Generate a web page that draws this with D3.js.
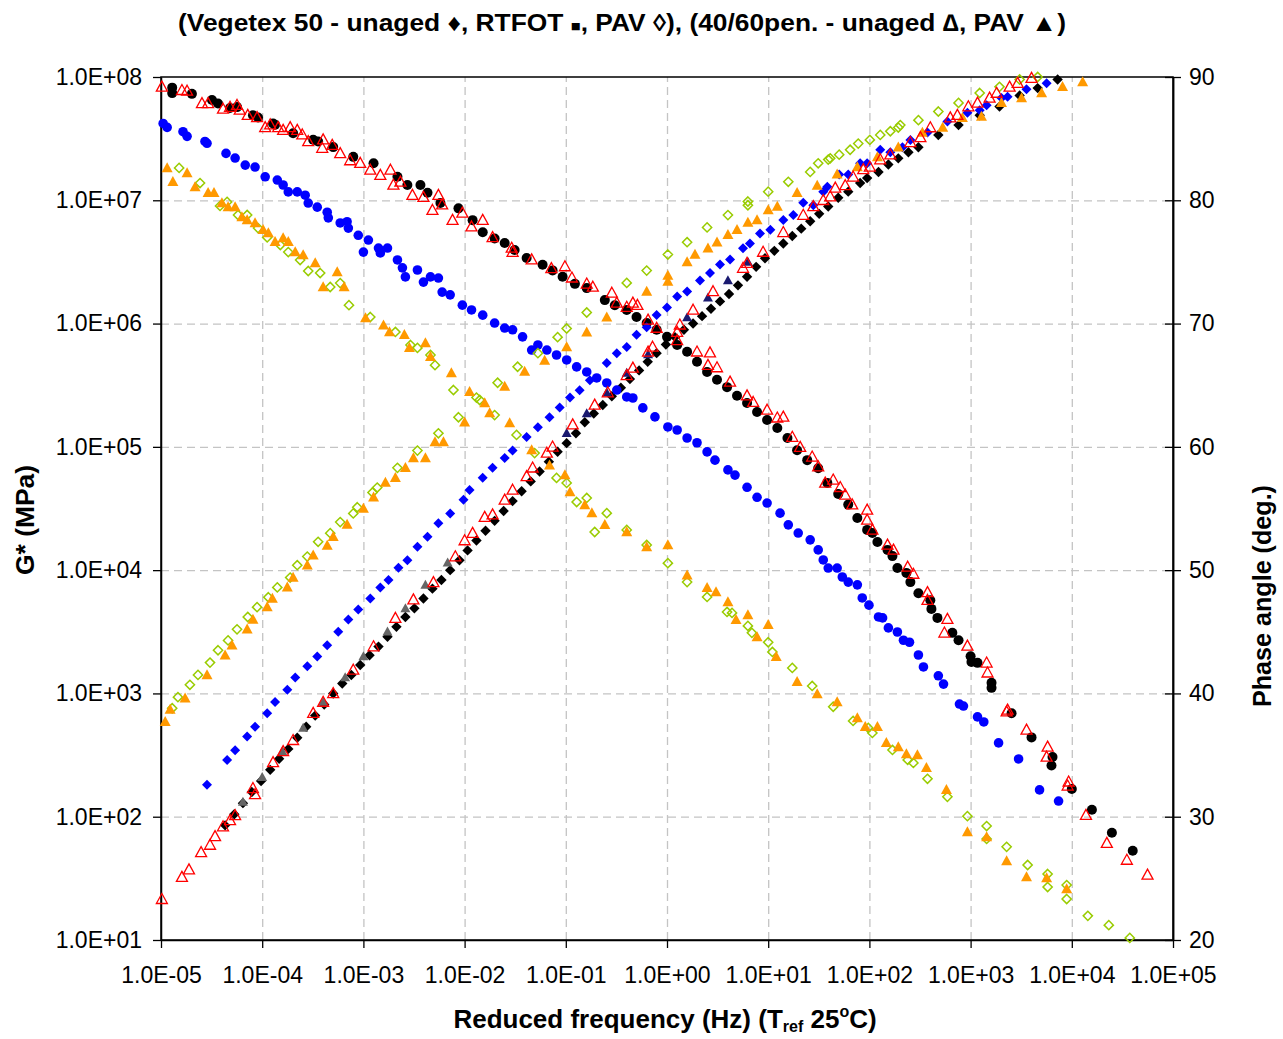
<!DOCTYPE html>
<html><head><meta charset="utf-8">
<script src="https://cdn.jsdelivr.net/npm/d3@7"></script>
<style>
body{margin:0;background:#fff}
svg{display:block}
text{font-family:"Liberation Sans",Arial,"DejaVu Sans",sans-serif;fill:#000}
</style>
</head><body>
<svg id="c" width="1283" height="1039"></svg>
<script>
// ---------------- DATA ----------------
const xTicks = [1e-5,1e-4,1e-3,1e-2,1e-1,1e0,1e1,1e2,1e3,1e4,1e5];
const xTickLabels = ["1.0E-05","1.0E-04","1.0E-03","1.0E-02","1.0E-01","1.0E+00","1.0E+01","1.0E+02","1.0E+03","1.0E+04","1.0E+05"];
const yLeftTicks = [1e1,1e2,1e3,1e4,1e5,1e6,1e7,1e8];
const yLeftTickLabels = ["1.0E+01","1.0E+02","1.0E+03","1.0E+04","1.0E+05","1.0E+06","1.0E+07","1.0E+08"];
const yRightTicks = [20,30,40,50,60,70,80,90];

// Vegetex 50 unaged — G* (MPa) vs reduced frequency (Hz)
const vegUnagedG = [[1.29e-5,8.2e7],[1.29e-5,7.4e7],[2.02e-5,7.3e7],[3.19e-5,6.5e7],[3.66e-5,6.1e7],[4.81e-5,5.6e7],[5.64e-5,5.7e7],[8.1e-5,4.9e7],[9.1e-5,4.7e7],[1.28e-4,4.2e7],[1.34e-4,4.1e7],[2.02e-4,3.5e7],[3.19e-4,3.1e7],[3.57e-4,3.0e7],[5.03e-4,2.7e7],[7.94e-4,2.25e7],[1.26e-3,2.0e7],[2.17e-3,1.55e7],[2.72e-3,1.33e7],[3.66e-3,1.33e7],[4.3e-3,1.15e7],[5.77e-3,9.5e6],[8.7e-3,8.6e6],[1.2e-2,6.9e6],[1.51e-2,5.5e6],[1.98e-2,4.9e6],[2.49e-2,4.5e6],[3.12e-2,3.95e6],[4.1e-2,3.4e6],[5.9e-2,3.0e6],[7.4e-2,2.7e6],[9.3e-2,2.4e6],[1.23e-1,2.1e6],[1.61e-1,1.94e6],[2.43e-1,1.55e6],[3.05e-1,1.41e6],[4.0e-1,1.29e6],[5.0e-1,1.13e6],[6.3e-1,1.01e6],[7.9e-1,8.9e5],[1.0,7.8e5],[1.26,6.7e5],[1.58,5.9e5],[1.98,4.9e5],[2.49,4.05e5],[3.12,3.5e5],[3.92,3.05e5],[4.92,2.6e5],[6.18,2.27e5],[7.76,1.92e5],[9.75,1.65e5],[12.3,1.42e5],[15.5,1.18e5],[19.3,9.4e4],[24.3,7.8e4],[31.2,6.7e4],[38.4,5.1e4],[49.2,4.15e4],[61.8,3.4e4],[76,2.65e4],[95,2.12e4],[107,2.0e4],[120,1.69e4],[151,1.46e4],[169,1.3e4],[189,1.04e4],[232,9.5e3],[254,8.0e3],[305,6.5e3],[400,5.7e3],[410,4.85e3],[470,4.1e3],[660,3.1e3],[760,2.7e3],[1000,2.0e3],[1020,1.8e3],[1170,1.77e3],[1610,1.22e3],[1610,1.11e3],[2540,690],[4000,440],[6450,305],[6300,260],[1.0e4,168],[1.58e4,114],[2.49e4,74],[4.0e4,53]];

// Vegetex 50 unaged — phase angle (deg)
const vegUnagedPhase = [[4.3e-5,29.3],[5.3e-5,30.2],[6.45e-5,31.1],[7.9e-5,32.0],[9.75e-5,32.9],[1.2e-4,33.8],[1.47e-4,34.7],[1.81e-4,35.5],[2.22e-4,36.4],[2.72e-4,37.3],[3.34e-4,38.2],[4.1e-4,39.1],[5.03e-4,40.0],[6.18e-4,40.8],[7.6e-4,41.5],[9.3e-4,42.3],[1.15e-3,43.1],[1.41e-3,43.8],[1.73e-3,44.6],[2.12e-3,45.4],[2.6e-3,46.2],[3.19e-3,46.9],[3.92e-3,47.7],[4.81e-3,48.5],[5.9e-3,49.2],[7.2e-3,50.0],[8.9e-3,50.8],[1.07e-2,51.6],[1.31e-2,52.4],[1.61e-2,53.2],[1.98e-2,54.0],[2.43e-2,54.8],[2.98e-2,55.6],[3.66e-2,56.4],[4.5e-2,57.2],[5.51e-2,58.0],[6.8e-2,58.8],[8.3e-2,59.6],[1.02e-1,60.3],[1.26e-1,61.1],[1.54e-1,62.0],[1.89e-1,62.7],[2.32e-1,63.4],[2.85e-1,64.1],[3.5e-1,64.8],[4.3e-1,65.5],[5.3e-1,66.2],[6.45e-1,66.9],[7.9e-1,67.6],[9.75e-1,68.3],[1.2,68.9],[1.47,69.5],[1.81,70.0],[2.22,70.6],[2.72,71.2],[3.34,71.8],[4.1,72.4],[5.03,73.1],[6.18,73.8],[7.6,74.6],[9.3,75.3],[11.5,75.9],[14.1,76.5],[17.3,77.1],[21.2,77.7],[26.0,78.3],[31.9,78.9],[39.2,79.5],[49.2,80.2],[61.8,80.7],[81,81.4],[95,81.8],[123,82.3],[154,82.9],[193,83.4],[243,83.9],[305,84.3],[480,85.3],[760,86.1],[1230,86.9],[1930,87.6],[3050,88.5],[4600,89.1],[7240,89.8]];

// Vegetex 50 RTFOT — G*
const rtfotG = [[1.05e-5,4.2e7],[1.15e-5,3.9e7],[1.65e-5,3.6e7],[1.81e-5,3.3e7],[2.72e-5,3.0e7],[2.85e-5,2.9e7],[4.39e-5,2.4e7],[5.4e-5,2.2e7],[6.8e-5,1.93e7],[8.5e-5,1.86e7],[1.07e-4,1.55e7],[1.41e-4,1.46e7],[1.61e-4,1.33e7],[1.81e-4,1.17e7],[2.22e-4,1.17e7],[2.66e-4,1.1e7],[2.85e-4,9.5e6],[3.5e-4,8.8e6],[4.39e-4,8.0e6],[4.5e-4,7.2e6],[5.9e-4,6.55e6],[6.9e-4,6.7e6],[7.1e-4,5.95e6],[8.9e-4,5.2e6],[1.12e-3,4.76e6],[1.0e-3,3.8e6],[1.41e-3,4.1e6],[1.47e-3,3.74e6],[1.73e-3,4.1e6],[2.17e-3,3.28e6],[2.43e-3,2.83e6],[2.6e-3,2.39e6],[3.42e-3,2.72e6],[3.92e-3,2.17e6],[4.6e-3,2.39e6],[5.51e-3,2.34e6],[6.0e-3,1.8e6],[7.2e-3,1.71e6],[9.5e-3,1.41e6],[1.17e-2,1.29e6],[1.51e-2,1.17e6],[1.98e-2,1.01e6],[2.49e-2,9.2e5],[2.98e-2,8.9e5],[3.74e-2,7.8e5],[4.6e-2,6.1e5],[5.3e-2,6.7e5],[6.5e-2,6.1e5],[8.1e-2,5.56e5],[1.02e-1,5.07e5],[1.28e-1,4.45e5],[1.61e-1,4.05e5],[2.02e-1,3.62e5],[2.54e-1,3.3e5],[3.19e-1,2.89e5],[4.0e-1,2.54e5],[4.6e-1,2.49e5],[5.77e-1,2.07e5],[7.6e-1,1.75e5],[1.02,1.45e5],[1.26,1.37e5],[1.58,1.18e5],[1.98,1.08e5],[2.49,9.1e4],[2.98,7.8e4],[4.0,6.5e4],[4.7,5.9e4],[6.18,4.7e4],[7.76,3.9e4],[9.75,3.5e4],[13.1,2.9e4],[15.8,2.33e4],[19.8,2.0e4],[26.0,1.76e4],[31.2,1.46e4],[35,1.21e4],[39.2,1.04e4],[48,1.04e4],[54,8.8e3],[61.8,8.0e3],[76,7.6e3],[85,5.95e3],[99,5.2e3],[123,4.17e3],[135,4.1e3],[154,3.4e3],[189,3.15e3],[217,2.7e3],[249,2.6e3],[305,2.05e3],[342,1.64e3],[480,1.39e3],[540,1.19e3],[776,820],[850,790],[1170,645],[1350,587],[1890,397],[2980,294],[4800,165],[7400,134]];

// Vegetex 50 RTFOT — phase angle
const rtfotPhase = [[2.85e-5,32.6],[4.5e-5,34.6],[5.4e-5,35.4],[7.1e-5,36.5],[8.5e-5,37.3],[1.12e-4,38.4],[1.34e-4,39.3],[1.77e-4,40.3],[2.12e-4,41.3],[2.79e-4,42.2],[3.5e-4,43.0],[4.39e-4,43.9],[5.64e-4,45.0],[7.1e-4,46.0],[8.9e-4,46.8],[1.17e-3,47.7],[1.47e-3,48.6],[1.77e-3,49.2],[2.22e-3,50.2],[2.72e-3,50.8],[3.42e-3,51.9],[4.3e-3,52.7],[5.51e-3,53.8],[7.2e-3,54.6],[9.75e-3,55.7],[1.12e-2,56.5],[1.51e-2,57.5],[1.89e-2,58.3],[2.49e-2,59.1],[2.98e-2,59.7],[4.1e-2,60.8],[5.3e-2,61.6],[6.9e-2,62.4],[8.7e-2,63.2],[1.1e-1,64.0],[1.37e-1,64.6],[1.73e-1,65.4],[2.54e-1,66.8],[3.19e-1,67.6],[4.0e-1,68.1],[5.0e-1,69.1],[6.3e-1,69.7],[7.9e-1,70.7],[1.0,71.3],[1.26,72.2],[1.58,72.6],[2.12,73.5],[2.66,74.1],[3.34,74.8],[4.2,75.2],[5.64,76.1],[6.6,76.5],[8.3,77.3],[10.5,77.6],[14.1,78.4],[17.7,78.8],[22.2,79.8],[27.9,79.6],[35,80.7],[38.4,81.1],[50.3,82.1],[61.8,82.1],[81,83.0],[95,83.0],[128,84.1],[161,83.9],[212,84.3],[254,84.9],[375,85.5],[590,86.4],[930,87.1],[1230,87.3],[1440,87.7],[2020,88.3],[2320,88.4],[3570,89.0],[5640,89.5]];

// Vegetex 50 PAV — G*
const vegPavG = [[1.51e-5,1.83e7],[2.43e-5,1.38e7],[3.83e-5,9.0e6],[4.5e-5,9.7e6],[5.77e-5,7.6e6],[7.1e-5,7.6e6],[9.1e-5,5.95e6],[1.12e-4,5.0e6],[1.51e-4,4.34e6],[1.81e-4,3.8e6],[2.37e-4,3.28e6],[2.85e-4,2.67e6],[3.74e-4,2.57e6],[4.7e-4,1.98e6],[5.9e-4,2.13e6],[7.2e-4,1.41e6],[1.17e-3,1.13e6],[2.07e-3,8.55e5],[2.92e-3,6.7e5],[3.42e-3,6.35e5],[4.6e-3,5.56e5],[5.1e-3,4.6e5],[7.76e-3,2.89e5],[1.41e-2,2.4e5],[1.98e-2,1.81e5],[3.26e-2,1.25e5],[4.92e-2,8.9e4],[8.1e-2,5.6e4],[1.02e-1,5.1e4],[1.28e-1,3.57e4],[1.61e-1,3.85e4],[1.93e-1,2.04e4],[2.54e-1,2.9e4],[4.0e-1,2.12e4],[6.3e-1,1.6e4],[1.02,1.14e4],[1.58,8.0e3],[2.49,6.06e3],[3.92,4.58e3],[4.39,4.5e3],[6.3,3.53e3],[6.9,3.1e3],[10,2.6e3],[11,2.17e3],[17.3,1.61e3],[27.2,1.15e3],[43.9,780],[69,598],[97.5,525],[107,478],[169,348],[239,289],[272,273],[375,203],[590,145],[930,101],[1440,84],[1440,66],[2270,57],[3660,40.6],[5770,34.3],[5770,26.9],[8900,27.9],[8900,21.5],[1.44e4,15.7],[2.32e4,13.2],[3.74e4,10.4]];

// Vegetex 50 PAV — phase angle
const vegPavPhase = [[1.29e-5,38.8],[1.47e-5,39.7],[1.93e-5,40.7],[2.32e-5,41.5],[3.05e-5,42.5],[3.66e-5,43.5],[4.6e-5,44.3],[5.64e-5,45.2],[7.2e-5,46.2],[8.9e-5,47.0],[1.15e-4,47.8],[1.41e-4,48.6],[1.89e-4,49.4],[2.22e-4,50.4],[2.79e-4,51.1],[3.57e-4,52.3],[4.7e-4,53.0],[5.9e-4,53.9],[7.94e-4,54.6],[8.7e-4,55.1],[1.23e-3,56.3],[1.37e-3,56.7],[2.17e-3,58.3],[3.42e-3,59.7],[5.51e-3,61.1],[8.7e-3,62.4],[1.31e-2,64.0],[2.12e-2,65.2],[3.34e-2,66.5],[5.3e-2,67.6],[8.3e-2,68.9],[1.02e-1,69.6],[1.61e-1,70.9],[4.0e-1,73.3],[6.3e-1,74.3],[1.02,75.6],[1.58,76.6],[2.49,77.8],[4.0,78.8],[6.3,79.9],[6.3,79.6],[10,80.7],[15.8,81.5],[26,82.3],[31.2,83.0],[39.2,83.3],[41,83.4],[50.3,83.7],[64.5,84.1],[77.6,84.6],[101,84.9],[128,85.3],[161,85.6],[193,85.9],[202,86.1],[305,86.5],[480,87.2],[760,87.9],[1230,88.7],[1930,89.2],[3050,89.8],[4600,90.0]];

// 40/60 pen. unaged — G*
const pen4060UnagedG = [[1.02e-5,8.3e7],[1.61e-5,7.8e7],[1.81e-5,7.7e7],[2.54e-5,6.1e7],[2.92e-5,6.1e7],[4.1e-5,5.5e7],[4.81e-5,5.7e7],[5.64e-5,5.9e7],[6.0e-5,5.4e7],[7.2e-5,4.9e7],[8.9e-5,4.7e7],[1.07e-4,3.9e7],[1.2e-4,4.1e7],[1.44e-4,3.9e7],[1.61e-4,3.7e7],[1.89e-4,3.9e7],[2.22e-4,3.7e7],[2.49e-4,3.4e7],[2.85e-4,3.0e7],[3.92e-4,2.65e7],[4.0e-4,3.1e7],[4.92e-4,2.8e7],[5.9e-4,2.4e7],[7.4e-4,2.1e7],[9.3e-4,2.0e7],[1.17e-3,1.76e7],[1.47e-3,1.6e7],[1.85e-3,1.76e7],[1.98e-3,1.33e7],[2.32e-3,1.41e7],[3.05e-3,1.1e7],[3.92e-3,1.06e7],[4.81e-3,8.3e6],[5.51e-3,1.1e7],[6.0e-3,9.2e6],[7.6e-3,6.9e6],[9.5e-3,7.9e6],[1.17e-2,6.1e6],[1.51e-2,6.9e6],[1.89e-2,5.0e6],[2.92e-2,4.1e6],[2.98e-2,3.8e6],[4.6e-2,3.3e6],[7.2e-2,2.8e6],[9.8e-2,2.9e6],[1.15e-1,2.35e6],[1.61e-1,2.1e6],[1.85e-1,1.98e6],[2.85e-1,1.77e6],[3.19e-1,1.47e6],[4.0e-1,1.36e6],[4.6e-1,1.47e6],[5.1e-1,1.41e6],[6.5e-1,1.07e6],[7.9e-1,9.2e5],[1.26,7.3e5],[1.98,5.9e5],[2.66,5.8e5],[2.54,4.6e5],[3.12,4.4e5],[4.2,3.36e5],[6.18,2.6e5],[7.1,2.3e5],[9.75,1.99e5],[12.3,1.72e5],[14.1,1.75e5],[17.3,1.2e5],[20.7,9.95e4],[27.2,8.3e4],[31.2,6.9e4],[36.6,5.1e4],[43.9,5.4e4],[51.5,4.7e4],[57.7,4.08e4],[67.6,3.4e4],[95,3.08e4],[95,2.55e4],[107,2.12e4],[151,1.6e4],[173,1.46e4],[239,1.06e4],[272,9.3e3],[375,6.6e3],[375,5.7e3],[590,4.0e3],[551,3.1e3],[930,2.43e3],[1440,1.77e3],[1470,1.47e3],[2270,710],[2320,735],[3570,506],[5770,368],[5640,305],[9300,192],[9100,178],[1.38e4,103],[2.22e4,61],[3.5e4,44.5],[5.6e4,33.7]];

// 40/60 pen. unaged — phase angle
const pen4060UnagedPhase = [[1.02e-5,23.3],[1.61e-5,25.1],[1.89e-5,25.7],[2.49e-5,27.1],[3.05e-5,27.7],[3.42e-5,28.4],[4.1e-5,29.2],[4.81e-5,29.7],[5.4e-5,30.1],[8.1e-5,32.3],[8.5e-5,31.8],[1.28e-4,34.4],[1.61e-4,35.3],[2.02e-4,36.2],[3.19e-4,38.4],[4.0e-4,39.3],[5.03e-4,40.0],[7.94e-4,41.9],[1.26e-3,43.8],[2.07e-3,46.1],[3.12e-3,47.6],[4.92e-3,49.0],[8.1e-3,51.1],[1.0e-2,52.4],[1.2e-2,53.0],[1.58e-2,54.3],[1.89e-2,54.5],[2.49e-2,55.7],[2.98e-2,56.5],[4.1e-2,57.6],[4.7e-2,58.3],[6.5e-2,59.5],[7.4e-2,60.0],[1.17e-1,61.8],[1.93e-1,63.4],[2.6e-1,64.4],[4.0e-1,65.8],[4.6e-1,66.4],[6.5e-1,67.7],[7.2e-1,68.1],[1.26,69.3],[1.34,69.9],[1.81,71.1],[2.85,72.6],[5.64,74.5],[6.18,74.9],[8.9,75.8],[14.1,77.4],[22.2,78.8],[27.9,79.5],[35,80.0],[41,80.3],[46,81.0],[57.7,81.2],[69,81.9],[87,82.5],[101,82.7],[128,83.3],[161,83.7],[254,84.7],[319,85.1],[400,85.9],[630,86.7],[740,86.9],[950,87.6],[1170,87.9],[1540,88.3],[1810,88.7],[2430,89.2],[2920,89.5],[4000,89.9]];

// 40/60 pen. PAV — G*
const pen4060PavG = [[1.15e-5,1.83e7],[1.31e-5,1.41e7],[1.81e-5,1.66e7],[2.17e-5,1.28e7],[2.92e-5,1.15e7],[3.34e-5,1.15e7],[4.0e-5,9.5e6],[4.6e-5,8.8e6],[5.4e-5,8.8e6],[6.3e-5,7.3e6],[7.1e-5,6.9e6],[8.5e-5,6.55e6],[1.02e-4,5.75e6],[1.15e-4,5.43e6],[1.34e-4,4.6e6],[1.61e-4,4.95e6],[1.81e-4,4.6e6],[2.12e-4,3.8e6],[2.54e-4,3.6e6],[3.34e-4,3.1e6],[4.0e-4,1.98e6],[5.51e-4,2.62e6],[6.45e-4,1.98e6],[1.05e-3,1.11e6],[1.58e-3,9.7e5],[1.81e-3,8.55e5],[2.54e-3,8.1e5],[2.85e-3,6.35e5],[4.1e-3,6.95e5],[4.6e-3,5.37e5],[7.4e-3,3.97e5],[1.12e-2,2.79e5],[1.58e-2,2.27e5],[1.77e-2,1.88e5],[2.79e-2,1.56e5],[4.6e-2,9.4e4],[6.9e-2,7.1e4],[9.8e-2,5.9e4],[1.1e-1,4.3e4],[1.54e-1,3.38e4],[1.81e-1,2.9e4],[2.43e-1,2.33e4],[4.0e-1,2.04e4],[6.3e-1,1.54e4],[1.02,1.6e4],[1.58,9.1e3],[2.49,7.2e3],[3.05,6.65e3],[4.0,5.5e3],[4.81,3.95e3],[6.3,4.33e3],[7.76,2.87e3],[10,3.6e3],[12,1.98e3],[19.3,1.24e3],[30.5,990],[48,850],[76,630],[91,535],[120,535],[147,397],[193,368],[232,323],[298,317],[366,249],[577,165],[930,75],[1440,68.5],[2270,43.7],[3570,32.4],[5640,31.8],[8900,25.9]];

// 40/60 pen. PAV — phase angle
const pen4060PavPhase = [[1.1e-5,37.7],[1.23e-5,38.7],[1.73e-5,39.6],[2.85e-5,41.5],[4.3e-5,43.1],[5.03e-5,43.9],[7.1e-5,45.2],[8.1e-5,46.0],[1.12e-4,47.0],[1.26e-4,47.7],[1.77e-4,48.6],[2.02e-4,49.4],[2.79e-4,50.4],[3.19e-4,51.2],[4.39e-4,52.0],[5.03e-4,52.7],[6.9e-4,53.7],[1.0e-3,55.0],[1.26e-3,55.9],[1.65e-3,57.1],[2.07e-3,57.5],[2.6e-3,58.3],[3.12e-3,59.1],[4.1e-3,59.1],[5.1e-3,60.4],[6.18e-3,60.4],[1.0e-2,62.0],[2.49e-2,64.9],[3.92e-2,66.1],[6.18e-2,67.0],[1.02e-1,68.1],[1.61e-1,69.3],[2.54e-1,70.5],[6.3e-1,72.6],[1.02,73.4],[1.02,73.9],[1.58,75.0],[1.89,75.6],[2.54,76.1],[3.12,76.6],[4.0,77.2],[4.92,77.6],[6.3,78.2],[7.76,78.4],[10,79.2],[12.3,79.5],[19.3,80.6],[30.5,81.2],[48,82.1],[76,82.7],[120,83.5],[193,84.3],[334,85.5],[530,85.9],[830,86.7],[1280,86.8],[2020,87.9],[3190,88.3],[5030,88.7],[8100,89.2],[1.28e4,89.6]];

// partly hidden filled triangles under the unaged phase markers
const hiddenGreyPhase = [[6.45e-5,31.2],[1.0e-4,33.2],[1.58e-4,35.3],[2.54e-4,37.2],[4.0e-4,39.3],[6.6e-4,41.3],[1.0e-3,43.0],[1.73e-3,45.0],[2.6e-3,46.9],[4.1e-3,48.8],[6.8e-3,50.6]];
const hiddenNavyPhase = [[1.02e-1,61.1],[1.61e-1,62.7],[2.54e-1,64.4],[4.0e-1,66.0],[6.5e-1,67.5],[1.58,70.5],[2.54,72.1],[4.0,73.5],[6.3,75.0]];

// ---------------- CHART ----------------
const P = {l:161, r:1173, t:77, b:940};
const svg = d3.select("#c");
const FONT = '"Liberation Sans",Arial,sans-serif';

const x = d3.scaleLog().domain([1e-5,1e5]).range([P.l,P.r]);
const yL = d3.scaleLog().domain([1e1,1e8]).range([P.b,P.t]);
const yR = d3.scaleLinear().domain([20,90]).range([P.b,P.t]);

// grid
const gridStyle = g => g.call(s=>s.select(".domain").remove())
  .selectAll(".tick line").attr("stroke","#c4c4c4").attr("stroke-width",1.3).attr("stroke-dasharray","8,5");
svg.append("g").attr("transform",`translate(0,${P.b})`)
  .call(d3.axisBottom(x).tickValues(xTicks.slice(1,-1)).tickSize(-(P.b-P.t)).tickFormat(""))
  .call(gridStyle);
svg.append("g").attr("transform",`translate(${P.l},0)`)
  .call(d3.axisLeft(yL).tickValues(yLeftTicks.slice(1,-1)).tickSize(-(P.r-P.l)).tickFormat(""))
  .call(gridStyle);

// frame
svg.append("rect").attr("x",P.l).attr("y",P.t).attr("width",P.r-P.l).attr("height",P.b-P.t)
  .attr("fill","none").attr("stroke","#000").attr("stroke-width",1.5);

// axes
const axStyle = g => { g.select(".domain").attr("stroke","#000").attr("stroke-width",1.5);
  g.selectAll(".tick line").attr("stroke","#000").attr("stroke-width",1.3);
  g.selectAll(".tick text").attr("font-size",23).attr("fill","#000").attr("font-family",FONT); };

svg.append("g").attr("transform",`translate(0,${P.b})`)
  .call(d3.axisBottom(x).tickValues(xTicks).tickFormat((d,i)=>xTickLabels[i]).tickSizeInner(8).tickSizeOuter(0).tickPadding(19))
  .call(axStyle);
svg.append("g").attr("transform",`translate(${P.l},0)`)
  .call(d3.axisLeft(yL).tickValues(yLeftTicks).tickFormat((d,i)=>yLeftTickLabels[i]).tickSizeInner(8).tickSizeOuter(0).tickPadding(11))
  .call(axStyle);
svg.append("g").attr("transform",`translate(${P.r},0)`)
  .call(d3.axisRight(yR).tickValues(yRightTicks).tickFormat(d3.format("d")).tickSizeInner(8).tickSizeOuter(0).tickPadding(8))
  .call(axStyle);
svg.append("g").attr("transform",`translate(${P.r},0)`)
  .call(d3.axisLeft(yR).tickValues(yRightTicks).tickFormat("").tickSizeInner(8).tickSizeOuter(0))
  .call(axStyle);

// marker shapes
const diamond = r => `M0,${-r}L${r},0L0,${r}L${-r},0Z`;
const tri = (w,h) => `M0,${-h*0.58}L${w/2},${h*0.42}L${-w/2},${h*0.42}Z`;
const circle = r => d3.symbol().type(d3.symbolCircle).size(Math.PI*r*r)();

function plot(data, yScale, path, fill, stroke, sw){
  svg.append("g").selectAll("path").data(data).join("path")
    .attr("transform", d=>`translate(${x(d[0])},${yScale(d[1])})`)
    .attr("d", path)
    .attr("fill", fill).attr("stroke", stroke).attr("stroke-width", sw||0);
}

plot(vegUnagedG, yL, circle(5), "#000", "none");
plot(vegUnagedPhase, yR, diamond(5.2), "#000", "none");
plot(hiddenGreyPhase, yR, tri(10,9), "#666666", "none");
plot(hiddenNavyPhase, yR, tri(10,9), "#1a1a70", "none");
plot(rtfotG, yL, circle(4.8), "#0000ff", "none");
plot(rtfotPhase, yR, diamond(5), "#0000ff", "none");
plot(vegPavG, yL, diamond(4.6), "none", "#99cc00", 1.5);
plot(vegPavPhase, yR, diamond(4.6), "none", "#99cc00", 1.5);
plot(pen4060PavG, yL, tri(11,10), "#ff9900", "none");
plot(pen4060PavPhase, yR, tri(11,10), "#ff9900", "none");
plot(pen4060UnagedG, yL, tri(11,10), "none", "#ff0000", 1.3);
plot(pen4060UnagedPhase, yR, tri(11,10), "none", "#ff0000", 1.3);

// titles
const tt = svg.append("text").attr("x",622).attr("y",31).attr("text-anchor","middle")
  .attr("font-size",24).attr("font-weight","bold")
  .attr("textLength",888).attr("lengthAdjust","spacingAndGlyphs");
tt.append("tspan").text("(Vegetex 50 - unaged \u2666, RTFOT ");
tt.append("tspan").attr("font-size",15).text("\u25A0");
tt.append("tspan").text(", PAV \u25CA), (40/60pen. - unaged \u2206, PAV \u25B2)");

svg.append("text").attr("transform","translate(34,520) rotate(-90)").attr("text-anchor","middle")
  .attr("font-size",26).attr("font-weight","bold").attr("textLength",110).attr("lengthAdjust","spacingAndGlyphs").text("G* (MPa)");

svg.append("text").attr("transform","translate(1271,596) rotate(-90)").attr("text-anchor","middle")
  .attr("font-size",26).attr("font-weight","bold").attr("textLength",222).attr("lengthAdjust","spacingAndGlyphs").text("Phase angle (deg.)");

const xt = svg.append("text").attr("x",665).attr("y",1028).attr("text-anchor","middle")
  .attr("font-size",26).attr("font-weight","bold");
xt.append("tspan").text("Reduced frequency (Hz) (T");
xt.append("tspan").attr("font-size",16).attr("dy",4).text("ref");
xt.append("tspan").attr("dy",-4).text(" 25");
xt.append("tspan").attr("font-size",16).attr("dy",-11).text("o");
xt.append("tspan").attr("dy",11).text("C)");
</script>
</body></html>
